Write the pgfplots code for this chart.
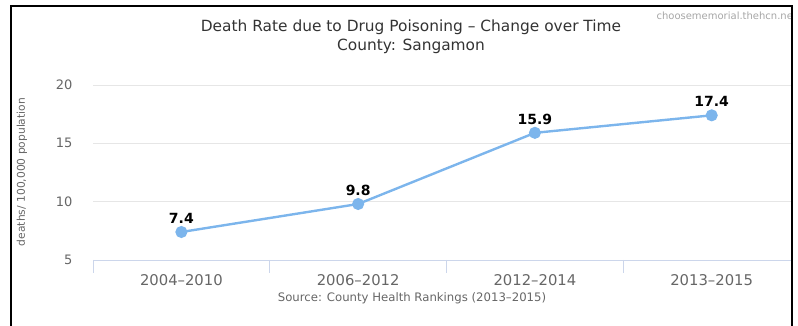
\documentclass[border=0pt]{standalone}
\usepackage{pgfplots}
\pgfplotsset{compat=1.18}
\usepackage{fontspec}
\setmainfont{DejaVu Sans}
\definecolor{hcline}{HTML}{7CB5EC}
\definecolor{hcgrid}{HTML}{E6E6E6}
\definecolor{hcaxis}{HTML}{CCD6EB}
\definecolor{hctext}{HTML}{666666}
\definecolor{hctitle}{HTML}{333333}
\begin{document}
\begin{tikzpicture}[x=1pt,y=1pt]
\useasboundingbox (0,0) rectangle (798,326);
\begin{axis}[
  at={(93pt,66pt)}, anchor=south west,
  scale only axis, width=700pt, height=175pt,
  xmin=-0.5, xmax=3.46, ymin=5, ymax=20,
  axis line style={draw=none},
  ytick={5,10,15,20},
  xtick={0,1,2,3},
  xticklabels={2004–2010,2006–2012,2012–2014,2013–2015},
  major tick length=0pt,
  ymajorgrids, grid style={hcgrid, line width=0.8pt},
  /pgf/number format/assume math mode=true,
  yticklabel style={font=\fontsize{13}{13}\selectfont, text=hctext, anchor=east, xshift=-17pt},
  xticklabel style={font=\fontsize{14.8}{15}\selectfont, text=hctext, anchor=center, yshift=-20pt},
  clip=false,
  nodes near coords,
  nodes near coords style={font=\bfseries\fontsize{14}{14}\selectfont, text=black, anchor=south, yshift=4pt,
    /pgf/number format/.cd, fixed, fixed zerofill, precision=1},
]
\draw[hcaxis, line width=0.8pt] (axis cs:-0.5,5) -- (axis cs:3.46,5);
\draw[hcaxis, line width=0.8pt] (axis cs:-0.5,5) -- ++(0pt,-13pt);
\draw[hcaxis, line width=0.8pt] (axis cs:0.5,5) -- ++(0pt,-13pt);
\draw[hcaxis, line width=0.8pt] (axis cs:1.5,5) -- ++(0pt,-13pt);
\draw[hcaxis, line width=0.8pt] (axis cs:2.5,5) -- ++(0pt,-13pt);
\addplot[hcline, line width=2.4pt, mark=*, mark options={solid, fill=hcline, draw=none, mark size=4.8pt}]
  coordinates {(0,7.4) (1,9.8) (2,15.9) (3,17.4)};
\end{axis}
\node[text=hctitle, font=\fontsize{15.4}{15.4}\selectfont] at (411,299) {Death Rate due to Drug Poisoning – Change over Time};
\node[text=hctitle, font=\fontsize{15.4}{15.4}\selectfont] at (411,280) {County: Sangamon};
\node[text=hctext, font=\fontsize{11.7}{12}\selectfont] at (412,28) {Source: County Health Rankings (2013–2015)};
\node[text=hctext, font=\fontsize{10.7}{11}\selectfont, rotate=90] at (22,154) {deaths/ 100,000 population};
\node[text=gray!70, font=\fontsize{10}{10}\selectfont, anchor=west] at (653,310) {choosememorial.thehcn.ne};
\draw[black, line width=2.5pt] (11,0) -- (11,320) -- (792,320) -- (792,0);
\end{tikzpicture}
\end{document}
